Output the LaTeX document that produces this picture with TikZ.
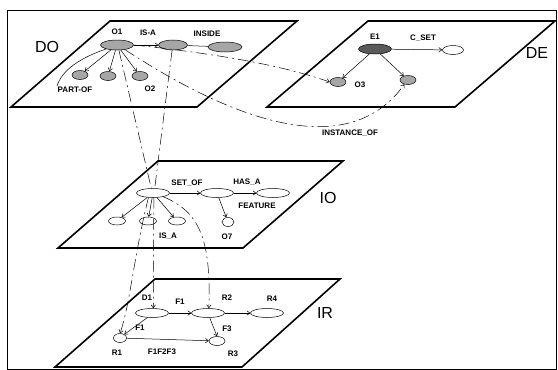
\documentclass[tikz,border=0pt]{standalone}
\usepackage{fontspec}
\setmainfont{Liberation Sans}
\usepackage{tikz}
\usetikzlibrary{positioning,arrows.meta,shapes.geometric}

\begin{document}
\begin{tikzpicture}[x=1pt,y=-1pt,
  plane/.style={draw, line width=1.6pt, line join=miter},
  obj/.style={draw, ellipse, inner sep=0pt, line width=0.5pt, fill=black!35, minimum width=16pt, minimum height=9pt},
  wobj/.style={obj, fill=white},
  wide/.style={minimum width=33pt, minimum height=10pt},
  lab/.style={font=\bfseries\fontsize{8}{9}\selectfont, inner sep=0pt},
  big/.style={font=\fontsize{16}{16}\selectfont, inner sep=0pt},
  lnk/.style={-{Straight Barb[length=3pt,width=4.5pt]}, line width=0.5pt},
  dsh/.style={dash pattern=on 11pt off 4pt on 2pt off 4pt, line width=0.5pt}]
\useasboundingbox (0,0) rectangle (558,370);
\draw[line width=1pt] (7,10) rectangle (556,369.5);

% planes
\draw[plane] (11,107) -- (197,107) -- (297,21) -- (110,21) -- cycle;
\draw[plane] (267,107) -- (455,107) -- (555,21) -- (368,21) -- cycle;
\draw[plane] (58,248) -- (243,248) -- (343,161) -- (158,161) -- cycle;
\draw[plane] (55,367) -- (242,367) -- (340,279) -- (155,279) -- cycle;
\node[big] (tdo) at (47,47) {DO};
\node[big] (tde) at (537,53) {DE};
\node[big] (tio) at (328,198) {IO};
\node[big] (tir) at (325,313) {IR};

% DO
\node[obj, wide] (o1) at (117,45) {};
\node[obj, wide, minimum width=29pt] (isa) at (173,45) {};
\node[obj, wide, minimum width=34pt] (inside) at (225,47) {};
\node[obj] (p1) at (80,75) {};
\node[obj] (p2) at (108,76) {};
\node[obj] (p3) at (140,76) {};
\coordinate (pof) at (57,86);
\node[lab] (lo1) at (117,32) {O1};
\node[lab] (lisa) at (148,33) {IS-A};
\node[lab] (linside) at (207,34) {INSIDE};
\node[lab] (lpof) at (75,90) {PART-OF};
\node[lab] (lo2) at (150,89) {O2};
\draw[lnk] (o1) -- (isa);
\draw[line width=0.5pt] (isa) -- (inside);
\draw[lnk] (o1) -- (p1);
\draw[lnk] (o1) -- (p2);
\draw[lnk] (o1) -- (p3);
\draw[line width=0.5pt] (o1.200) .. controls (80,58) and (62,70) .. (pof);

% DE
\node[obj, wide, fill=black!65] (e1) at (375,49) {};
\node[wobj, minimum width=21pt] (cset) at (453,50) {};
\node[obj] (o3) at (338,82) {};
\node[obj] (dn2) at (408,80) {};
\node[lab] (le1) at (375,37) {E1};
\node[lab] (lcset) at (423,38) {C\_SET};
\node[lab] (lo3) at (360,85) {O3};
\draw[lnk] (e1) -- (cset);
\draw[lnk] (e1) -- (o3);
\draw[lnk] (e1) -- (dn2);

% DO to DE
\draw[dsh, lnk] (o1.east) .. controls (230,55) and (290,68) .. (o3.west);
\draw[dsh, lnk] (o1.-30) .. controls (240,125) and (350,160) .. (dn2.230);
\node[lab] (linst) at (350,133) {INSTANCE\_OF};

% IO
\node[wobj, wide, minimum height=9pt] (setof) at (153,193) {};
\node[wobj, wide, minimum height=9pt] (hasa) at (217,193) {};
\node[wobj, wide, minimum height=9pt] (feat) at (273,193) {};
\node[wobj, minimum width=12pt] (o7) at (228,222) {};
\node[wobj, minimum width=17pt, minimum height=8pt] (i1) at (117,221) {};
\node[wobj, minimum width=17pt, minimum height=8pt] (i2) at (148,221) {};
\node[wobj, minimum width=17pt, minimum height=8pt] (i3) at (177,221) {};
\node[lab] (lsetof) at (187,183) {SET\_OF};
\node[lab] (lhasa) at (247,182) {HAS\_A};
\node[lab] (lfeat) at (257,206) {FEATURE};
\node[lab] (lo7) at (227,237) {O7};
\node[lab] (lisa2) at (168,236) {IS\_A};
\draw[lnk] (setof) -- (hasa);
\draw[lnk] (hasa) -- (feat);
\draw[lnk] (hasa) -- (o7);
\draw[lnk] (setof) -- (i1);
\draw[lnk] (setof) -- (i2);
\draw[lnk] (setof) -- (i3);

% DO to IO
\draw[dsh] (o1.-70) -- (setof.110);
\draw[dsh] (isa.-100) -- (setof.70);

% IR
\node[wobj, wide, minimum height=9pt] (d1) at (152,313) {};
\node[wobj, wide, minimum height=9pt] (r2) at (208,313) {};
\node[wobj, wide, minimum height=9pt] (r4) at (267,313) {};
\node[wobj, minimum width=13pt] (r1) at (120,338) {};
\node[wobj] (r3) at (217,341) {};
\node[lab] (ld1) at (147,298) {D1};
\node[lab] (lf1) at (180,302) {F1};
\node[lab] (lr2) at (227,298) {R2};
\node[lab] (lr4) at (272,299) {R4};
\node[lab] (lf1b) at (140,328) {F1};
\node[lab] (lf3) at (227,329) {F3};
\node[lab] (lr1) at (117,353) {R1};
\node[lab] (lf123) at (162,352) {F1F2F3};
\node[lab] (lr3) at (233,354) {R3};
\draw[lnk] (d1) -- (r2);
\draw[lnk] (r2) -- (r4);
\draw[lnk] (d1.225) -- (r1.40);
\draw[lnk] (r1) -- (r3);
\draw[lnk] (r2.-70) -- (r3.north);

% IO to IR
\draw[dsh, lnk] (setof.225) .. controls (134,255) and (130,305) .. (r1.north);
\draw[dsh, lnk] (setof.-80) -- (d1.75);
\draw[dsh, lnk] (setof.-20) .. controls (200,212) and (211,240) .. (r2.80);
\end{tikzpicture}
\end{document}
